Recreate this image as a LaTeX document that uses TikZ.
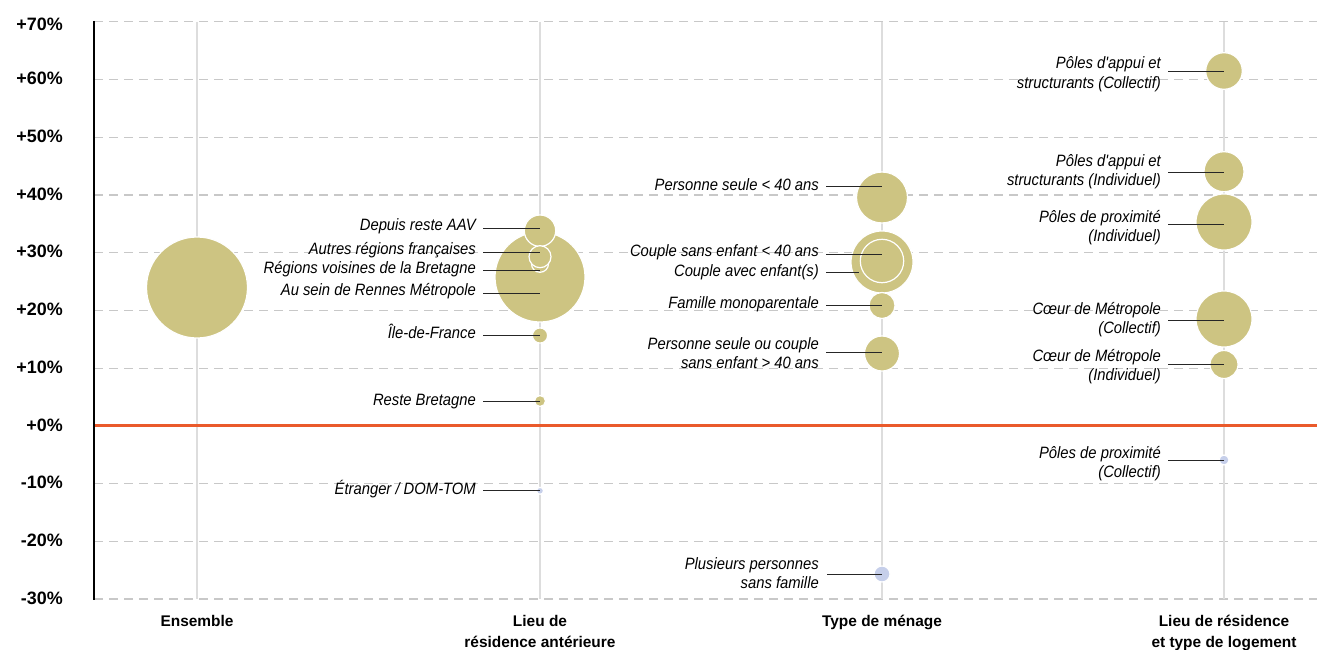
\documentclass[tikz,border=0pt]{standalone}
\usepackage{fontspec}
\setmainfont{Liberation Sans}
\newfontfamily\labfont{Liberation Sans}[FakeStretch=0.9]
\definecolor{khaki}{HTML}{CDC482}
\definecolor{bluebub}{HTML}{C6CFEA}
\definecolor{zeroline}{HTML}{EA5A2B}
\definecolor{gridc}{HTML}{C8C8C8}
\definecolor{colc}{HTML}{DDDDDD}
\newcommand{\twor}[2]{\begin{tabular}[t]{@{}r@{}}#1\\#2\end{tabular}}
\newcommand{\twoc}[2]{\begin{tabular}[t]{@{}c@{}}#1\\#2\end{tabular}}
\tikzset{
  bub/.style={circle, fill=khaki, draw=white, line width=1.2bp, inner sep=0pt, outer sep=0pt},
  bubb/.style={bub, fill=bluebub},
  lead/.style={draw=black!85, line width=1bp},
  lab/.style={anchor=base east, inner sep=0pt, font=\labfont\itshape\fontsize{16.5}{20}\selectfont},
  ytick/.style={anchor=east, inner sep=0pt, font=\bfseries\fontsize{18}{20}\selectfont},
  cat/.style={anchor=base, inner sep=0pt, font=\bfseries\fontsize{15.5}{21}\selectfont},
  gridl/.style={draw=gridc, line width=1.2bp, dash pattern=on 9bp off 6bp},
  coll/.style={draw=colc, line width=1.6bp},
}
\begin{document}
\begin{tikzpicture}[x=1bp,y=-1bp]
\useasboundingbox[fill=white] (0,0) rectangle (1317,650);
% horizontal grid
\foreach \v in {-30,-20,-10,10,20,30,40,50,60,70}{
  \draw[gridl] (94,{425.9-5.773*\v}) -- (1317,{425.9-5.773*\v});
}
% column lines
\foreach \cx in {197,540,882,1224}{
  \draw[coll] (\cx,22) -- (\cx,599);
}
% zero line
\draw[draw=zeroline, line width=3bp] (94,425.9) -- (1317,425.9);
% axis
\draw[line width=2bp] (94,21) -- (94,600);
% y tick labels
\node[ytick] (t70) at (63,24.5) {+70\%};
\foreach \v/\t in {60/+60,50/+50,40/+40,30/+30,20/+20,10/+10,0/+0,-10/-10,-20/-20,-30/-30}{
  \node[ytick] (t\v) at (63,{424.9-5.773*\v}) {\t\%};
}
% ---- bubbles
\node[bub, minimum size=101bp] (bEns) at (197,287.5) {};
% Lieu de residence anterieure
\node[bub, minimum size=90bp] (bSein) at (540,277) {};
\node[bub, minimum size=31.4bp] (bDep) at (540,230.7) {};
\node[bub, minimum size=17bp] (bReg) at (540,263.8) {};
\node[bub, minimum size=22bp] (bAut) at (540,256.7) {};
\node[bub, minimum size=15.2bp] (bIdf) at (540,335.5) {};
\node[bub, minimum size=11bp] (bRB) at (540,401) {};
\node[bubb, minimum size=7bp] (bEtr) at (540,490.8) {};
% Type de menage
\node[bub, minimum size=51bp] (bPS40) at (882,197.5) {};
\node[bub, minimum size=62bp] (bCAvec) at (882,262) {};
\node[bub, minimum size=43.4bp] (bCSans) at (882,261) {};
\node[bub, minimum size=26bp] (bFam) at (882,305.5) {};
\node[bub, minimum size=35bp] (bPS2) at (882,353.5) {};
\node[bubb, minimum size=16bp] (bPlus) at (882,574) {};
% Lieu de residence et type de logement
\node[bub, minimum size=36.6bp] (bPAC) at (1224,71) {};
\node[bub, minimum size=40bp] (bPAI) at (1224,171.7) {};
\node[bub, minimum size=56bp] (bPPI) at (1224,222) {};
\node[bub, minimum size=56bp] (bCC) at (1224,319) {};
\node[bub, minimum size=28bp] (bCI) at (1224,364.5) {};
\node[bubb, minimum size=10bp] (bPPC) at (1224,460) {};
% ---- leader lines
\coordinate (sDep) at (483,228.3);  \draw[lead] (sDep) -- (sDep -| bDep);
\coordinate (sAut) at (483,252.7);  \draw[lead] (sAut) -- (sAut -| bAut);
\coordinate (sReg) at (483,270.7);  \draw[lead] (sReg) -- (sReg -| bReg);
\coordinate (sSein) at (483,293.3); \draw[lead] (sSein) -- (sSein -| bSein);
\coordinate (sIdf) at (483,335.3);  \draw[lead] (sIdf) -- (sIdf -| bIdf);
\coordinate (sRB) at (483,401.3);   \draw[lead] (sRB) -- (sRB -| bRB);
\coordinate (sEtr) at (483,490.7);  \draw[lead] (sEtr) -- (sEtr -| bEtr);
\coordinate (sPS40) at (826,186.7); \draw[lead] (sPS40) -- (sPS40 -| bPS40);
\coordinate (sCSans) at (826,254);  \draw[lead] (sCSans) -- (sCSans -| bCSans);
\coordinate (sCAvec) at (826,272);  \coordinate (eCAvec) at (859,272); \draw[lead] (sCAvec) -- (eCAvec);
\coordinate (sFam) at (826,305);    \draw[lead] (sFam) -- (sFam -| bFam);
\coordinate (sPS2) at (826,352.7);  \draw[lead] (sPS2) -- (sPS2 -| bPS2);
\coordinate (sPlus) at (827,574);   \draw[lead] (sPlus) -- (sPlus -| bPlus);
\coordinate (sPAC) at (1168,72);    \draw[lead] (sPAC) -- (sPAC -| bPAC);
\coordinate (sPAI) at (1168,172.3); \draw[lead] (sPAI) -- (sPAI -| bPAI);
\coordinate (sPPI) at (1168,224);   \draw[lead] (sPPI) -- (sPPI -| bPPI);
\coordinate (sCC) at (1168,320);    \draw[lead] (sCC) -- (sCC -| bCC);
\coordinate (sCI) at (1168,364.3);  \draw[lead] (sCI) -- (sCI -| bCI);
\coordinate (sPPC) at (1168,460);   \draw[lead] (sPPC) -- (sPPC -| bPPC);
% ---- labels
\node[lab] (lDep) at (476,230.5) {Depuis reste AAV};
\node[lab] (lAut) at (476,254.5) {Autres régions françaises};
\node[lab] (lReg) at (476,273) {Régions voisines de la Bretagne};
\node[lab] (lSein) at (476,295.5) {Au sein de Rennes Métropole};
\node[lab] (lIdf) at (476,338.5) {Île-de-France};
\node[lab] (lRB) at (476,405) {Reste Bretagne};
\node[lab] (lEtr) at (476,494.5) {Étranger / DOM-TOM};
\node[lab] (lPS40) at (819,190.5) {Personne seule < 40 ans};
\node[lab] (lCSans) at (819,256) {Couple sans enfant < 40 ans};
\node[lab] (lCAvec) at (819,276) {Couple avec enfant(s)};
\node[lab] (lFam) at (819,308.7) {Famille monoparentale};
\node[lab] (lPS2) at (819,349) {\twor{Personne seule ou couple}{sans enfant > 40 ans}};
\node[lab] (lPlus) at (819,569) {\twor{Plusieurs personnes}{sans famille}};
\node[lab] (lPAC) at (1161,68.7) {\twor{Pôles d'appui et}{structurants (Collectif)}};
\node[lab] (lPAI) at (1161,166) {\twor{Pôles d'appui et}{structurants (Individuel)}};
\node[lab] (lPPI) at (1161,222) {\twor{Pôles de proximité}{(Individuel)}};
\node[lab] (lCC) at (1161,314) {\twor{Cœur de Métropole}{(Collectif)}};
\node[lab] (lCI) at (1161,361) {\twor{Cœur de Métropole}{(Individuel)}};
\node[lab] (lPPC) at (1161,458) {\twor{Pôles de proximité}{(Collectif)}};
% ---- category labels
\node[cat] (cEns) at (197,626.5) {Ensemble};
\node[cat] (cLieu) at (540,626.5) {\twoc{Lieu de}{résidence antérieure}};
\node[cat] (cType) at (882,626.5) {Type de ménage};
\node[cat] (cRes) at (1224,626.5) {\twoc{Lieu de résidence}{et type de logement}};
\end{tikzpicture}
\end{document}
